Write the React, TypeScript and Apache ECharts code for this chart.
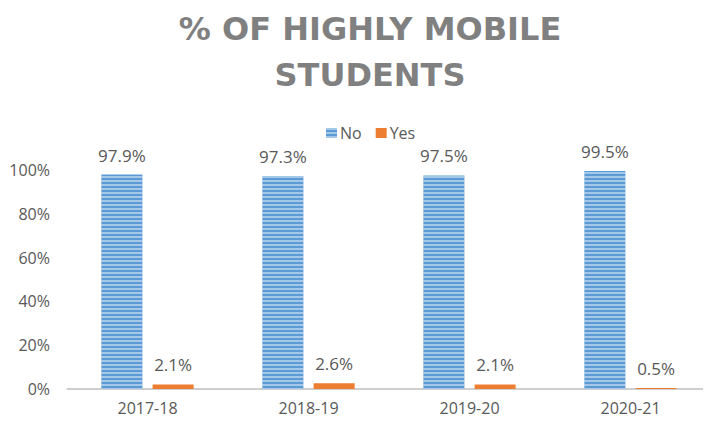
import React, { useEffect, useRef } from "react";
import * as echarts from "echarts";

const categories = ["2017-18", "2018-19", "2019-20", "2020-21"];
const noValues = [97.9, 97.3, 97.5, 99.5];
const yesValues = [2.1, 2.6, 2.1, 0.5];
const yTicks = [0, 20, 40, 60, 80, 100];

export default function App() {
  const ref = useRef<HTMLDivElement>(null);
  useEffect(() => {
    if (!ref.current) return;
    const chart = echarts.init(ref.current, null, { renderer: "svg" });
    const labelStyle = {
      show: true,
      position: "top" as const,
      distance: 11,
      color: "#595959",
      fontSize: 17,
      fontFamily: "Open Sans",
      formatter: (p: any) => p.value.toFixed(1) + "%",
    };
    chart.setOption({
      animation: false,
      backgroundColor: "#ffffff",
      title: {
        text: "% OF HIGHLY MOBILE\nSTUDENTS",
        left: 365,
        textAlign: "center",
        top: 1,
        textStyle: {
          color: "#808080",
          fontSize: 32,
          fontWeight: "bold",
          fontFamily: "DejaVu Sans",
          lineHeight: 46,
        },
      },
      legend: {
        data: ["No", "Yes"],
        top: 120,
        left: 321,
        itemWidth: 11,
        itemHeight: 10,
        itemGap: 14,
        icon: "rect",
        textStyle: { color: "#595959", fontSize: 16, fontFamily: "Open Sans", padding: [0, 0, 0, -2] },
      },
      grid: { left: 67, top: 170, width: 648, height: 219, containLabel: false },
      xAxis: {
        type: "category",
        data: categories,
        axisLine: { show: true, lineStyle: { color: "#bfbfbf", width: 1.5 } },
        axisTick: { show: false },
        axisLabel: { color: "#595959", fontSize: 16, fontFamily: "Open Sans", margin: 10, lineHeight: 18 },
      },
      yAxis: {
        type: "value",
        min: 0,
        max: 100,
        interval: 20,
        axisLine: { show: false },
        axisTick: { show: false },
        splitLine: { show: false },
        axisLabel: {
          color: "#595959",
          fontSize: 16,
          fontFamily: "Open Sans",
          margin: 17,
          formatter: (v: number) => (yTicks.includes(v) ? v + "%" : ""),
        },
      },
      series: [
        {
          name: "No",
          type: "bar",
          data: noValues,
          barWidth: 41,
          barGap: "25%",
          itemStyle: {
            color: "#5b9bd5",
            decal: {
              symbol: "rect",
              symbolSize: 1,
              dashArrayX: [[1, 0]],
              dashArrayY: [2, 2],
              color: "rgba(255,255,255,0.45)",
            },
          },
          label: labelStyle,
        },
        {
          name: "Yes",
          type: "bar",
          data: yesValues,
          barWidth: 41,
          itemStyle: { color: "#ed7d31" },
          label: labelStyle,
        },
      ],
    });
    return () => chart.dispose();
  }, []);
  return <div ref={ref} style={{ width: 711, height: 423, margin: -8 }} />;
}
